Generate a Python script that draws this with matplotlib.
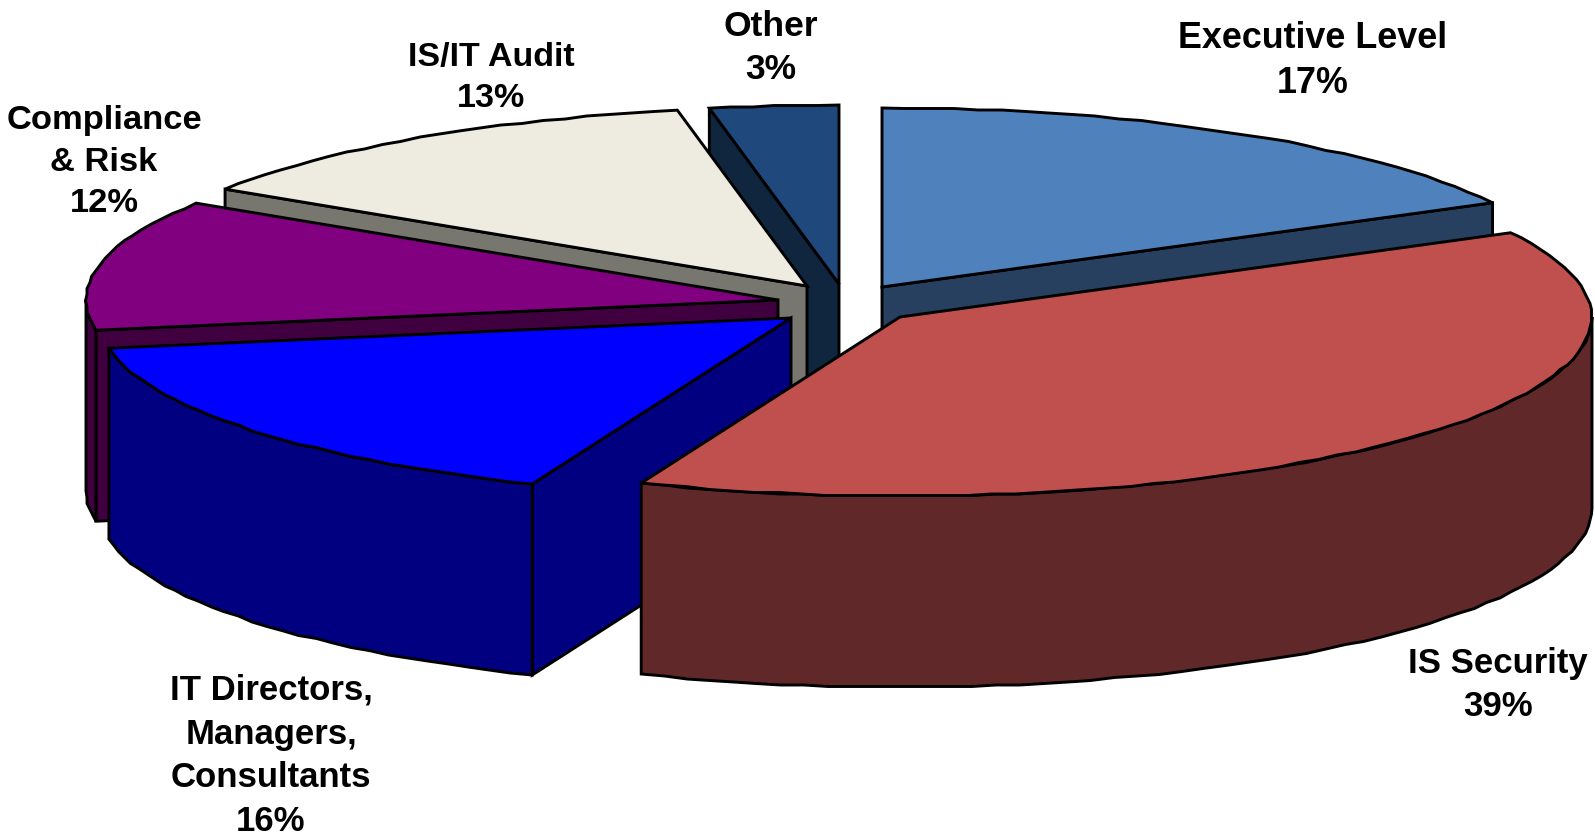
import numpy as np
import matplotlib
matplotlib.use("Agg")
import matplotlib.pyplot as plt
from matplotlib.patches import Polygon

categories = ["Executive Level", "IS Security", "IT Directors,\nManagers,\nConsultants",
              "Compliance\n& Risk", "IS/IT Audit", "Other"]
values = [17.2, 38.9, 16.2, 11.8, 12.9, 3.0]

top_colors = ["#4f81bd", "#c0504d", "#0000ff", "#800080", "#eeece1", "#1f497d"]
wall_colors = ["#284060", "#602828", "#000080", "#400040", "#777770", "#10263f"]

# exploded centre of each slice, in pixels
centers_x = [882, 900, 791, 778, 807, 839]
centers_y = [288, 318, 319, 301, 287, 285]
label_x = [1313, 1498, 271, 104, 491, 771]
label_y = [61, 685, 756, 162, 78, 48]
label_size = [25.8, 25, 25, 24.8, 24.5, 25.5]

# painter's order, back to front
draw_order = [5, 0, 4, 3, 2, 1]

RX = 692
RY = 179
DEPTH = 191
STEP = 2.0
GRID = 1.5  # the rim of the original is stepped, not smooth
LW = 2.1


def rim(cx, cy, theta):
    t = np.radians(theta)
    return np.column_stack([cx + RX * np.sin(t), cy - RY * np.cos(t)])


def stepped_rim(cx, cy, a, b):
    n = max(int(np.ceil((b - a) / STEP)), 1)
    pts = rim(cx, cy, np.linspace(a, b, n + 1))
    pts[1:-1] = np.round(pts[1:-1] / GRID) * GRID
    return pts


def draw_slice(ax, cx, cy, a, b, top, wall):
    # radial walls facing the viewer
    for edge, visible in ((a, np.sin(np.radians(a)) < -1e-9), (b, np.sin(np.radians(b)) > 1e-9)):
        if visible:
            p = rim(cx, cy, np.array([edge]))[0]
            pts = [(cx, cy), tuple(p), (p[0], p[1] + DEPTH), (cx, cy + DEPTH)]
            ax.add_patch(Polygon(pts, fc=wall, ec="black", lw=LW, joinstyle="miter"))
    # outer wall, only the near half of the rim
    lo, hi = max(a, 90), min(b, 270)
    if lo < hi:
        arc = stepped_rim(cx, cy, lo, hi)
        low = arc + [0, DEPTH]
        ax.add_patch(Polygon(np.vstack([arc, low[::-1]]), fc=wall, ec="black", lw=LW))
    arc = stepped_rim(cx, cy, a, b)
    ax.add_patch(Polygon(np.vstack([[cx, cy], arc]), fc=top, ec="black", lw=LW, joinstyle="miter"))


fig = plt.figure(figsize=(15.95, 8.37), dpi=100)
ax = fig.add_axes([0, 0, 1, 1])
ax.set_xlim(0, 1595)
ax.set_ylim(837, 0)
ax.axis("off")

stops = np.concatenate([[0], np.cumsum(values)]) / np.sum(values) * 360
for i in draw_order:
    draw_slice(ax, centers_x[i], centers_y[i], stops[i], stops[i + 1], top_colors[i], wall_colors[i])

for i, name in enumerate(categories):
    ax.text(label_x[i], label_y[i], f"{name}\n{round(values[i])}%", ha="center", va="center",
            family="Liberation Sans", weight="bold", fontsize=label_size[i],
            linespacing=1.2 * 44 / 35 * 23.5 / label_size[i], color="black")

fig.savefig("out.png", dpi=100, facecolor="white")
